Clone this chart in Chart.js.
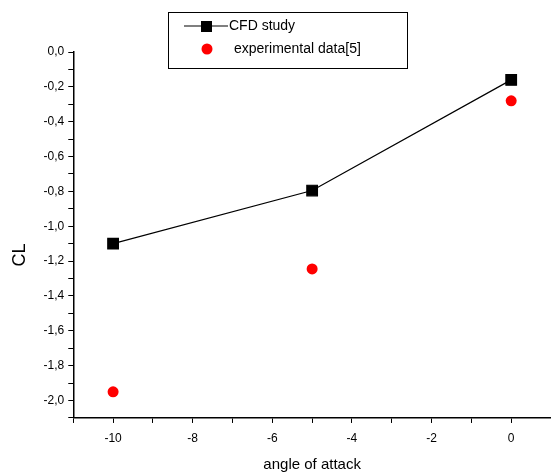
<!DOCTYPE html>
<html>
<head>
<meta charset="utf-8">
<script src="https://cdn.jsdelivr.net/npm/chart.js@4.4.0/dist/chart.umd.min.js"></script>
<style>
  html, body { margin: 0; padding: 0; background: #fff; }
  #wrap { width: 551px; height: 474px; }
</style>
</head>
<body>
<div id="wrap"><canvas id="clChart"></canvas></div>
<script>
var angles = [-10, -5, 0];
var cfdValues = [-1.10, -0.795, -0.16];
var expValues = [-1.95, -1.245, -0.28];
var seriesNames = ['CFD study', 'experimental data[5]'];
var yTitle = 'CL';

function toPoints(xs, ys) {
    return xs.map(function (x, i) { return { x: x, y: ys[i] }; });
}

// boxed legend like the original plot, plus the y title placed a bit low
var boxLegend = {
    id: 'boxLegend',
    afterDraw: function (chart) {
        var ctx = chart.ctx;
        ctx.save();
        ctx.strokeStyle = '#000';
        ctx.lineWidth = 1;
        ctx.strokeRect(168.5, 12.5, 239, 56);
        ctx.font = '14px "Liberation Sans", Arial, sans-serif';
        ctx.textBaseline = 'middle';
        ctx.fillStyle = '#000';
        // CFD entry
        ctx.beginPath();
        ctx.moveTo(184, 26);
        ctx.lineTo(228, 26);
        ctx.lineWidth = 1.2;
        ctx.stroke();
        ctx.fillRect(201, 21, 11, 11);
        ctx.fillText(seriesNames[0], 229, 26);
        // experimental entry
        ctx.fillStyle = '#ff0000';
        ctx.beginPath();
        ctx.arc(207, 49, 5.5, 0, Math.PI * 2);
        ctx.fill();
        ctx.fillStyle = '#000';
        ctx.fillText(seriesNames[1], 234, 49);

        ctx.translate(20, 255);
        ctx.rotate(-Math.PI / 2);
        ctx.font = '18px "Liberation Sans", Arial, sans-serif';
        ctx.textAlign = 'center';
        ctx.fillText(yTitle, 0, 0);
        ctx.restore();
    }
};

var clConfig = {
    type: 'scatter',
    data: {
        datasets: [{
            label: seriesNames[0],
            data: toPoints(angles, cfdValues),
            showLine: true,
            borderColor: '#000',
            borderWidth: 1.2,
            backgroundColor: '#000',
            pointStyle: 'rect',
            pointRadius: 7.5,
            pointHoverRadius: 7.5
        }, {
            label: seriesNames[1],
            data: toPoints(angles, expValues),
            showLine: false,
            borderColor: '#ff0000',
            borderWidth: 0,
            backgroundColor: '#ff0000',
            pointStyle: 'circle',
            pointRadius: 5.5,
            pointHoverRadius: 5.5
        }]
    },
    options: {
        responsive: true,
        maintainAspectRatio: false,
        animation: false,
        layout: {
            autoPadding: false,
            padding: { top: 52, right: 0, bottom: 0, left: 10 }
        },
        scales: {
            x: {
                type: 'linear',
                min: -11,
                max: 1,
                border: { display: true, color: '#000', width: 1.5 },
                grid: { drawOnChartArea: false, drawTicks: true, tickLength: 5, color: '#000' },
                ticks: {
                    stepSize: 1,
                    autoSkip: false,
                    maxRotation: 0,
                    color: '#000',
                    // tall line height pushes labels down
                    font: { family: '"Liberation Sans", Arial', size: 12, lineHeight: 2.67 },
                    padding: 0,
                    callback: function (v) {
                        return (Math.round(v) % 2 === 0) ? String(v) : '';
                    }
                },
                title: {
                    display: true,
                    text: 'angle of attack',
                    color: '#000',
                    font: { family: '"Liberation Sans", Arial', size: 15 },
                    padding: { top: 1, bottom: 0 }
                }
            },
            y: {
                type: 'linear',
                min: -2.1,
                max: 0,
                border: { display: true, color: '#000', width: 1.5 },
                grid: { drawOnChartArea: false, drawTicks: true, tickLength: 5, color: '#000' },
                ticks: {
                    stepSize: 0.1,
                    autoSkip: false,
                    color: '#000',
                    font: { family: '"Liberation Sans", Arial', size: 12 },
                    padding: 4,
                    callback: function (v) {
                        var n = Math.round(v * 10);
                        return (n % 2 === 0) ? (n / 10).toFixed(1).replace('.', ',') : '';
                    }
                },
                title: {
                    display: true,
                    text: yTitle,
                    color: 'rgba(0,0,0,0)',
                    font: { family: '"Liberation Sans", Arial', size: 18 },
                    padding: { top: 0, bottom: 8 }
                }
            }
        },
        plugins: {
            legend: { display: false },
            tooltip: { enabled: false }
        }
    },
    plugins: [boxLegend]
};

var ctx = document.getElementById('clChart').getContext('2d');
var clChart = new Chart(ctx, clConfig);
</script>
</body>
</html>
